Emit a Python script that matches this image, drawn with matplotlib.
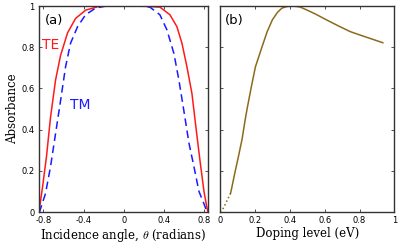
import numpy as np
import matplotlib.pyplot as plt

# (a) absorbance vs incidence angle
te_theta = [-0.845, -0.81, -0.77, -0.73, -0.68, -0.63, -0.56, -0.48, -0.38, -0.25,
            -0.10, 0.0, 0.16, 0.36, 0.46, 0.53, 0.58, 0.63, 0.68, 0.72,
            0.76, 0.80, 0.83, 0.84]
te_abs = [0.0, 0.12, 0.27, 0.46, 0.64, 0.76, 0.87, 0.94, 0.98, 0.998,
          1.0, 1.0, 1.0, 0.995, 0.958, 0.90, 0.82, 0.705, 0.575, 0.41,
          0.25, 0.10, 0.02, 0.0]

tm_theta = [-0.845, -0.84, -0.78, -0.73, -0.68, -0.63, -0.58, -0.53, -0.46, -0.38,
            -0.28, -0.18, 0.0, 0.16, 0.26, 0.36, 0.43, 0.50, 0.55, 0.60,
            0.65, 0.70, 0.75, 0.80, 0.83]
tm_abs = [0.0, 0.0, 0.09, 0.22, 0.38, 0.54, 0.705, 0.82, 0.90, 0.958,
          0.99, 1.0, 1.0, 1.0, 0.995, 0.958, 0.885, 0.77, 0.64, 0.49,
          0.335, 0.22, 0.10, 0.04, 0.0]

# (b) absorbance vs doping level
dop_low = [0.0, 0.02, 0.04, 0.06]
abs_low = [0.0, 0.02, 0.055, 0.09]
dop = [0.06, 0.066, 0.085, 0.107, 0.127, 0.142, 0.155, 0.18, 0.203, 0.24,
       0.27, 0.30, 0.33, 0.355, 0.38, 0.41, 0.44, 0.46, 0.50, 0.55,
       0.61, 0.68, 0.746, 0.80, 0.87, 0.933]
abs_dop = [0.09, 0.112, 0.19, 0.275, 0.356, 0.437, 0.50, 0.61, 0.705, 0.80,
           0.875, 0.933, 0.97, 0.99, 0.997, 1.0, 0.998, 0.995, 0.98, 0.96,
           0.933, 0.903, 0.876, 0.86, 0.84, 0.822]

plt.rcParams['mathtext.fontset'] = 'cm'
serif = 'DejaVu Serif'
brown = '#8c6a1c'

fig = plt.figure(figsize=(3.99, 2.46), dpi=100)
ax1 = fig.add_axes([0.0977, 0.138, 0.4236, 0.8374])
ax2 = fig.add_axes([0.5514, 0.138, 0.4373, 0.8374])

ax1.plot(te_theta, te_abs, color='#ff1a1a', lw=1.1)
ax1.plot(tm_theta, tm_abs, color='#1a1aff', lw=1.1, dashes=(5, 3))
ax1.set_xlim(-0.845, 0.84)
ax1.set_xticks([-0.8, -0.4, 0, 0.4, 0.8])
ax1.set_xticklabels(['-0.8', '-0.4', '0', '0.4', '0.8'])
ax1.set_yticks([0, 0.2, 0.4, 0.6, 0.8, 1])
ax1.set_yticklabels(['0', '0.2', '0.4', '0.6', '0.8', '1'])
ax1.set_xlabel(r'Incidence angle, $\theta$ (radians)', family=serif, fontsize=8.5, labelpad=1)
ax1.set_ylabel('Absorbance', family=serif, fontsize=8.5, labelpad=2)
ax1.text(-0.79, 0.93, '(a)', fontsize=9.5, va='center')
ax1.text(-0.81, 0.81, 'TE', color='#ff1a1a', fontsize=10, va='center')
ax1.text(-0.54, 0.52, 'TM', color='#1a1aff', fontsize=10, va='center')

ax2.plot(dop_low, abs_low, color=brown, lw=1.1, ls=':')
ax2.plot(dop, abs_dop, color=brown, lw=1.1)
ax2.set_xlim(0, 1)
ax2.set_xticks([0, 0.2, 0.4, 0.6, 0.8, 1])
ax2.set_xticklabels(['0', '0.2', '0.4', '0.6', '0.8', '1'])
ax2.set_yticks([0, 0.2, 0.4, 0.6, 0.8, 1])
ax2.set_yticklabels([])
ax2.set_xlabel('Doping level (eV)', family=serif, fontsize=8.5, labelpad=1)
ax2.text(0.03, 0.93, '(b)', fontsize=9.5, va='center')

for ax in (ax1, ax2):
    ax.set_ylim(0, 1)
    ax.tick_params(direction='in', top=True, right=True, length=2.5, width=0.6,
                   labelsize=6, pad=3, color='#333333')
    for s in ax.spines.values():
        s.set_color('#333333')
        s.set_linewidth(1.0)

fig.savefig('out.png', dpi=100)
